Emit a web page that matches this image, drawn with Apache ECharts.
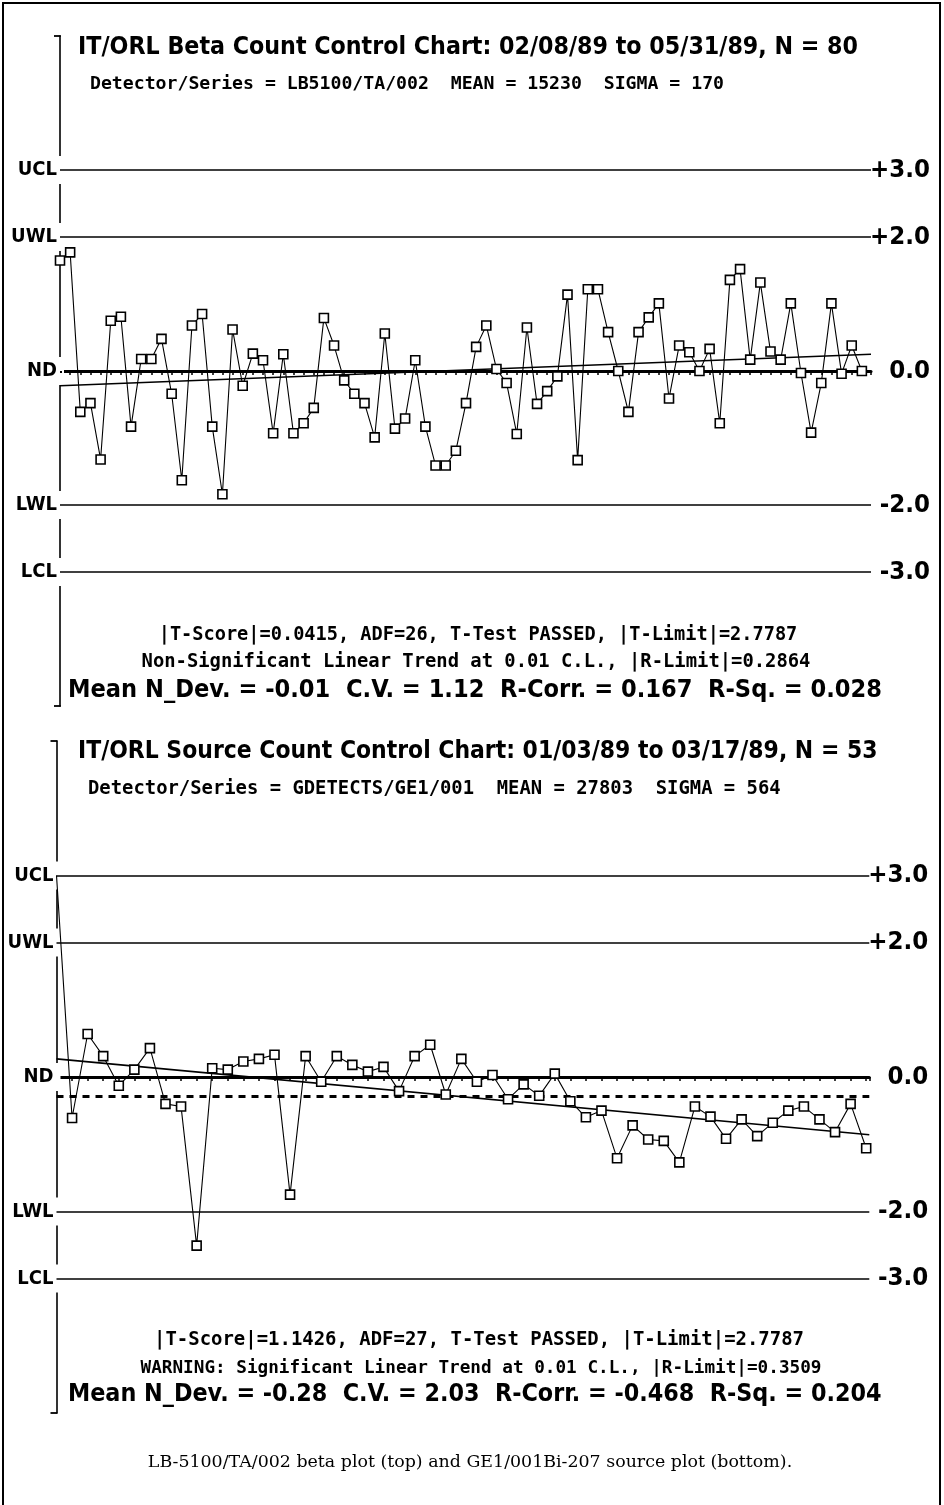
<!DOCTYPE html>
<html><head><meta charset="utf-8">
<script src="https://cdn.jsdelivr.net/npm/echarts@6/dist/echarts.min.js"></script>
<style>html,body{margin:0;padding:0;background:#fff}#c{width:944px;height:1505px}</style>
</head><body><div id="c"></div>
<script>
// ---------- data ----------
const betaValues = [1.65, 1.77, -0.61, -0.48, -1.32, 0.75, 0.81, -0.83, 0.18, 0.18,
  0.48, -0.34, -1.63, 0.68, 0.85, -0.83, -1.84, 0.62, -0.22, 0.26,
  0.16, -0.93, 0.25, -0.93, -0.78, -0.55, 0.79, 0.38, -0.14, -0.34,
  -0.48, -0.99, 0.56, -0.86, -0.71, 0.16, -0.83, -1.41, -1.41, -1.19,
  -0.48, 0.36, 0.68, 0.03, -0.18, -0.94, 0.65, -0.49, -0.30, -0.08,
  1.14, -1.33, 1.22, 1.22, 0.58, 0.00, -0.61, 0.58, 0.80, 1.01,
  -0.41, 0.38, 0.28, 0.00, 0.33, -0.78, 1.36, 1.52, 0.17, 1.32,
  0.29, 0.17, 1.01, -0.03, -0.92, -0.18, 1.01, -0.04, 0.38, 0.00];
const sourceValues = [3.00, -0.61, 0.64, 0.31, -0.13, 0.11, 0.43, -0.40, -0.44, -2.51,
  0.13, 0.11, 0.23, 0.27, 0.33, -1.75, 0.31, -0.07, 0.31, 0.18,
  0.08, 0.15, -0.21, 0.31, 0.48, -0.26, 0.27, -0.07, 0.03, -0.33,
  -0.11, -0.28, 0.05, -0.36, -0.60, -0.50, -1.21, -0.72, -0.93, -0.95,
  -1.27, -0.44, -0.59, -0.92, -0.63, -0.88, -0.68, -0.50, -0.44, -0.63,
  -0.82, -0.40, -1.06];
const betaTrend = [-0.22, 0.25];     // regression line, start / end
const sourceTrend = [0.27, -0.86];
const betaMean = -0.01;
const sourceMean = -0.28;
const limitValues = [3, 2, 0, -2, -3];
const limitNames = ['UCL', 'UWL', 'ND', 'LWL', 'LCL'];
const limitTicks = ['+3.0', '+2.0', '0.0', '-2.0', '-3.0'];

const betaTitle = 'IT/ORL Beta Count Control Chart: 02/08/89 to 05/31/89, N = 80';
const betaSub = 'Detector/Series = LB5100/TA/002  MEAN = 15230  SIGMA = 170';
const betaStats = ['|T-Score|=0.0415, ADF=26, T-Test PASSED, |T-Limit|=2.7787',
  'Non-Significant Linear Trend at 0.01 C.L., |R-Limit|=0.2864',
  'Mean N_Dev. = -0.01  C.V. = 1.12  R-Corr. = 0.167  R-Sq. = 0.028'];
const sourceTitle = 'IT/ORL Source Count Control Chart: 01/03/89 to 03/17/89, N = 53';
const sourceSub = 'Detector/Series = GDETECTS/GE1/001  MEAN = 27803  SIGMA = 564';
const sourceStats = ['|T-Score|=1.1426, ADF=27, T-Test PASSED, |T-Limit|=2.7787',
  'WARNING: Significant Linear Trend at 0.01 C.L., |R-Limit|=0.3509',
  'Mean N_Dev. = -0.28  C.V. = 2.03  R-Corr. = -0.468  R-Sq. = 0.204'];
const caption = 'LB-5100/TA/002 beta plot (top) and GE1/001Bi-207 source plot (bottom).';

// ---------- layout / style ----------
const COND = "'DejaVu Sans Condensed', 'DejaVu Sans', sans-serif";
const MONO = "'DejaVu Sans Mono', monospace";
const SERIF = "'DejaVu Serif', serif";
const mctx = document.createElement('canvas').getContext('2d');
function fit(text, family, weight, targetW) {
  mctx.font = weight + ' 20px ' + family;
  return 20 * targetW / mctx.measureText(text).width;
}
function txt(text, x, y, family, weight, size, align) {
  return {
    type: 'text', x: x, y: y, silent: true, z: 50,
    style: { text: text, font: weight + ' ' + size.toFixed(2) + 'px ' + family, fill: '#000',
      textAlign: align, align: align, textVerticalAlign: 'middle', verticalAlign: 'middle' }
  };
}
function nameOf(v, arr) { const i = limitValues.indexOf(v); return i >= 0 ? arr[i] : ''; }

const labelSize = 20;
const tickSize = fit('+3.0', COND, 'bold', 60);

const grids = [
  { left: 60, top: 36, width: 811, height: 670, xmax: 79.9 },
  { left: 56.5, top: 741, width: 812.8, height: 672, xmax: 52.2 }
];

const chart = echarts.init(document.getElementById('c'), null, { renderer: 'canvas', width: 944, height: 1505 });

const xAxes = [], yAxes = [], series = [];
grids.forEach((g, gi) => {
  xAxes.push({
    type: 'value', gridIndex: gi, min: 0, max: g.xmax, interval: 1,
    axisLine: { show: true, onZero: true, lineStyle: { color: '#000', width: 3 } },
    axisTick: { show: true, length: 4, lineStyle: { color: '#000', width: 1.5 } },
    axisLabel: { show: false }, splitLine: { show: false }
  });
  yAxes.push({
    type: 'value', gridIndex: gi, min: -5, max: 5, interval: 1, position: 'left',
    axisLine: { show: true, lineStyle: { color: '#000', width: 1.6 } },
    axisTick: { show: false }, splitLine: { show: false },
    axisLabel: {
      formatter: v => { const s = nameOf(v, limitNames); return s ? '{b|' + s + '}' : ''; },
      margin: -4, color: '#000', fontFamily: COND, fontWeight: 'bold', fontSize: labelSize,
      rich: { b: { fontFamily: COND, fontWeight: 'bold', fontSize: labelSize, color: '#000',
        backgroundColor: '#fff', padding: [4, 7, 4, 0] } }
    }
  });
  yAxes.push({
    type: 'value', gridIndex: gi, min: -5, max: 5, interval: 1, position: 'right',
    axisLine: { show: false }, axisTick: { show: false }, splitLine: { show: false },
    axisLabel: {
      formatter: v => nameOf(v, limitTicks), margin: 59, align: 'right',
      fontFamily: COND, fontWeight: 'bold', fontSize: tickSize, color: '#000'
    }
  });
});

function buildSeries(gi, values, trend, mean, meanStyle) {
  const g = grids[gi];
  series.push({
    type: 'line', xAxisIndex: gi, yAxisIndex: gi * 2, z: 3,
    data: [[0, trend[0]], [g.xmax, trend[1]]], symbol: 'none',
    lineStyle: { color: '#000', width: 1.6 }, animation: false, silent: true,
    markLine: {
      silent: true, symbol: ['none', 'none'], animation: false, label: { show: false },
      data: [3, 2, -2, -3].map(v => ({ yAxis: v, lineStyle: { color: '#000', width: 1.6, type: 'solid' } }))
        .concat([{ yAxis: mean, lineStyle: meanStyle }])
    }
  });
  series.push({
    type: 'line', xAxisIndex: gi, yAxisIndex: gi * 2, z: 5,
    data: values.map((v, i) => (gi === 1 && i === 0) ? { value: [i, v], symbol: 'none' } : [i, v]),
    symbol: 'rect', symbolSize: 9, showAllSymbol: true,
    itemStyle: { color: '#fff', borderColor: '#000', borderWidth: 1.6 },
    lineStyle: { color: '#000', width: 1.1 }, animation: false, silent: true
  });
}
buildSeries(0, betaValues, betaTrend, betaMean, { color: '#000', width: 2, type: [2, 3] });
buildSeries(1, sourceValues, sourceTrend, sourceMean, { color: '#000', width: 3, type: [7, 6] });

const graphics = [
  { type: 'rect', shape: { x: 3, y: 3, width: 937, height: 1530 }, style: { fill: 'none', stroke: '#000', lineWidth: 2 }, silent: true }
];
graphics.push(txt(betaTitle, 78, 48, COND, 'bold', fit(betaTitle, COND, 'bold', 780), 'left'));
graphics.push(txt(betaSub, 90, 84, MONO, 'bold', fit(betaSub, MONO, 'bold', 705) * 0.9, 'left'));
graphics.push(txt(betaStats[0], 478, 635, MONO, 'bold', fit(betaStats[0], MONO, 'bold', 710) * 0.9, 'center'));
graphics.push(txt(betaStats[1], 476, 662, MONO, 'bold', fit(betaStats[1], MONO, 'bold', 743) * 0.9, 'center'));
graphics.push(txt(betaStats[2], 68, 690, COND, 'bold', fit(betaStats[2], COND, 'bold', 814), 'left'));
graphics.push(txt(sourceTitle, 78, 752, COND, 'bold', fit(sourceTitle, COND, 'bold', 800), 'left'));
graphics.push(txt(sourceSub, 88, 789, MONO, 'bold', fit(sourceSub, MONO, 'bold', 770) * 0.9, 'left'));
graphics.push(txt(sourceStats[0], 479, 1340, MONO, 'bold', fit(sourceStats[0], MONO, 'bold', 722) * 0.9, 'center'));
graphics.push(txt(sourceStats[1], 481, 1368, MONO, 'bold', fit(sourceStats[1], MONO, 'bold', 757) * 0.9, 'center'));
graphics.push(txt(sourceStats[2], 68, 1395, COND, 'bold', fit(sourceStats[2], COND, 'bold', 814), 'left'));
graphics.push(txt(caption, 470, 1462, SERIF, 'normal', fit(caption, SERIF, 'normal', 645), 'center'));

chart.setOption({
  backgroundColor: '#fff',
  animation: false,
  grid: grids.map(g => ({ left: g.left, top: g.top, width: g.width, height: g.height, containLabel: false })),
  xAxis: xAxes, yAxis: yAxes, series: series, graphic: graphics
});

// bracket hooks at the ends of each vertical axis
const hooks = [];
grids.forEach((g, gi) => {
  const topP = chart.convertToPixel({ xAxisIndex: gi, yAxisIndex: gi * 2 }, [0, 5]);
  const botP = chart.convertToPixel({ xAxisIndex: gi, yAxisIndex: gi * 2 }, [0, -5]);
  [topP, botP].forEach(p => hooks.push({
    type: 'line', silent: true, z: 40,
    shape: { x1: p[0] - 6, y1: p[1], x2: p[0] + 0.8, y2: p[1] },
    style: { stroke: '#000', lineWidth: 1.8 }
  }));
});
chart.setOption({ graphic: graphics.concat(hooks) });
</script>
</body></html>
